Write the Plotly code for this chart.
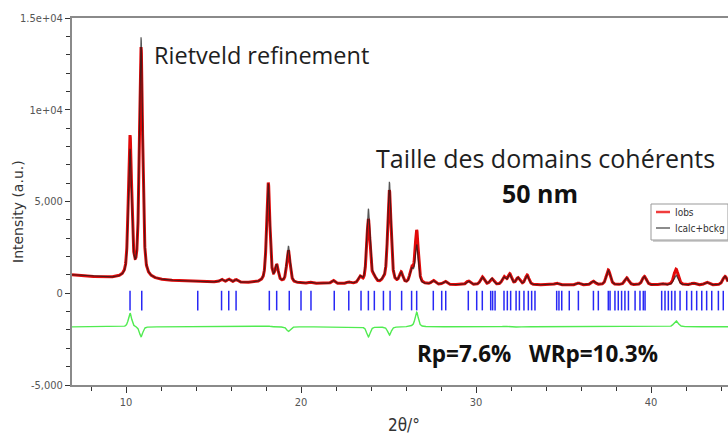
import numpy as np
import plotly.graph_objects as go

# ---------------- data ----------------
x_range = [6.914, 44.4]
y_range = [-5000, 15000]

# background (2theta, intensity)
bg_pos = [6.9, 8.0, 9.0, 10.0, 12.0, 14.0, 16.0, 18.0, 20.0, 22.0, 25.0, 28.0, 32.0, 36.0, 40.0, 45.0]
bg_int = [1000, 900, 830, 790, 700, 630, 580, 550, 530, 510, 480, 460, 450, 445, 440, 440]

# peaks: position, calculated height, observed height (above background), FWHM
peak_pos = [10.23, 10.86, 15.46, 15.87, 16.29, 18.13, 18.61, 19.28, 20.57, 21.83, 22.73, 23.37,
            23.85, 24.17, 24.71, 25.05, 25.72, 26.32, 26.61, 27.56, 28.23, 29.56, 30.36, 30.90,
            31.60, 31.93, 32.40, 32.92, 34.60, 35.85, 36.70, 37.56, 38.61, 39.62, 40.60, 41.43,
            42.42, 43.18, 44.23]
peak_calc = [6900, 13100, 150, 170, 150, 5400, 850, 2000, 60, 180, 80, 330,
             4050, 280, 100, 5550, 560, 740, 2100, 200, 180, 200, 400, 340,
             380, 540, 380, 500, 100, 100, 200, 800, 390, 460, 80, 540,
             100, 150, 480]
peak_obs = [7650, 12550, 150, 170, 150, 5450, 870, 1750, 60, 180, 80, 330,
            3500, 280, 100, 5100, 580, 760, 2900, 200, 180, 200, 420, 320,
            410, 570, 360, 530, 100, 100, 200, 820, 390, 470, 80, 870,
            100, 150, 480]
peak_fwhm = [0.22, 0.22, 0.22, 0.22, 0.22, 0.22, 0.22, 0.23, 0.22, 0.22, 0.22, 0.22,
             0.23, 0.22, 0.22, 0.23, 0.23, 0.23, 0.22, 0.24, 0.25, 0.25, 0.25, 0.25,
             0.25, 0.25, 0.25, 0.25, 0.26, 0.26, 0.27, 0.27, 0.27, 0.28, 0.28, 0.29,
             0.29, 0.29, 0.3]

# Bragg reflection positions (blue ticks)
reflections = [10.23, 10.90, 14.10, 15.46, 15.87, 16.29, 18.19, 18.61, 19.33, 20.00, 20.57,
               21.90, 22.73, 23.43, 23.85, 24.19, 24.71, 25.09, 25.75, 26.32, 26.61, 27.56,
               28.04, 28.27, 29.56, 30.04, 30.36, 30.84, 30.95, 31.09, 31.60, 31.79, 31.98,
               32.29, 32.48, 32.74, 32.99, 33.18, 33.37, 34.61, 34.74, 34.90, 35.33, 35.85,
               36.71, 36.99, 37.56, 37.66, 37.94, 38.13, 38.32, 38.51, 38.71, 39.09, 39.37,
               39.56, 39.66, 40.61, 40.80, 40.99, 41.18, 41.37, 41.66, 42.04, 42.32, 42.61,
               42.90, 43.18, 43.47, 43.85, 44.13]
tick_level = -400
diff_offset = -1830

y_tickvals = [-5000, 0, 5000, 10000, 15000]
y_ticktext = ["-5,000", "0", "5,000", "1e+04", "1.5e+04"]
x_tickvals = [10, 20, 30, 40]
x_ticktext = ["10", "20", "30", "40"]

# ---------------- build profiles ----------------
x = np.arange(x_range[0], x_range[1] + 0.005, 0.005)


def profile(heights):
    y = np.interp(x, bg_pos, bg_int)
    for p, h, w in zip(peak_pos, heights, peak_fwhm):
        d = (x - p) / w
        y = y + h * (0.5 * np.exp(-4 * np.log(2) * d ** 2) + 0.5 / (1 + 4 * d ** 2))
    return y


y_calc = profile(peak_calc)
y_obs = profile(peak_obs)
y_diff = y_obs - y_calc + diff_offset

fig = go.Figure()
fig.add_trace(go.Scatter(x=x, y=y_obs, mode="lines", name="Iobs",
                         line=dict(color="rgb(225,10,10)", width=3), showlegend=False))
fig.add_trace(go.Scatter(x=x, y=y_calc, mode="lines", name="Icalc+bckg",
                         line=dict(color="rgba(30,30,30,0.75)", width=1.2), showlegend=False))
fig.add_trace(go.Scatter(x=reflections, y=[tick_level] * len(reflections), mode="markers",
                         marker=dict(symbol="line-ns", size=14,
                                     line=dict(width=1.5, color="rgb(40,40,245)")),
                         showlegend=False))
fig.add_trace(go.Scatter(x=x, y=y_diff, mode="lines",
                         line=dict(color="rgb(80,235,80)", width=1.4), showlegend=False))

L, T, W, H = 72, 18, 656, 367


def px(v):
    return (v - L) / W


def py(v):
    return (T + H - v) / H


narrow = "Liberation Sans Narrow, Arial Narrow, DejaVu Sans Condensed, sans-serif"
tick_font = dict(family=narrow, size=11, color="#555")

fig.update_layout(
    width=728, height=435,
    margin=dict(l=L, r=0, t=T, b=435 - T - H),
    paper_bgcolor="white", plot_bgcolor="white",
    xaxis=dict(range=x_range, tickvals=x_tickvals, ticktext=x_ticktext,
               ticks="outside", ticklen=6, tickwidth=1.3, tickcolor="#333",
               showline=True, linecolor="#8a8a8a", linewidth=2, mirror=True,
               showgrid=False, zeroline=False, tickfont=tick_font,
               minor=dict(dtick=2, tick0=0, ticks="outside", ticklen=4, tickwidth=1.3,
                          tickcolor="#333", showgrid=False)),
    yaxis=dict(range=y_range, tickvals=y_tickvals, ticktext=y_ticktext,
               ticks="outside", ticklen=5, tickwidth=1.3, tickcolor="#333",
               showline=True, linecolor="#8a8a8a", linewidth=2,
               showgrid=False, zeroline=False, tickfont=tick_font,
               minor=dict(dtick=1000, tick0=0, ticks="outside", ticklen=4, tickwidth=1.3,
                          tickcolor="#333", showgrid=False)),
    showlegend=False,
)

text_font = "Open Sans, Noto Sans, sans-serif"
annotations = [
    dict(x=px(152), y=py(55), text="Rietveld refinement", xanchor="left", yanchor="middle",
         font=dict(family=text_font, size=23.5, color="#1e1e1e")),
    dict(x=px(545), y=py(158), text="Taille des domains cohérents", xanchor="center", yanchor="middle",
         font=dict(family=text_font, size=25, color="#1e1e1e")),
    dict(x=px(540), y=py(193), text="<b>50 nm</b>", xanchor="center", yanchor="middle",
         font=dict(family=text_font, size=25, color="#111")),
    dict(x=px(415), y=py(353), text="<b>Rp=7.6%   WRp=10.3%</b>", xanchor="left", yanchor="middle",
         font=dict(family=text_font, size=22.5, color="#111")),
    dict(x=px(18), y=py(212), text="Intensity (a.u.)", textangle=-90, xanchor="center", yanchor="middle",
         font=dict(family="DejaVu Sans, sans-serif", size=14, color="#333")),
    dict(x=px(404), y=py(425), text="2θ/°", xanchor="center", yanchor="middle",
         font=dict(family=narrow, size=17, color="#333")),
    dict(x=px(673), y=py(212), text="Iobs", xanchor="left", yanchor="middle",
         font=dict(family=narrow, size=10, color="#333")),
    dict(x=px(673), y=py(228), text="Icalc+bckg", xanchor="left", yanchor="middle",
         font=dict(family=narrow, size=10, color="#333")),
]
for a in annotations:
    a.update(xref="paper", yref="paper", showarrow=False)
fig.update_layout(annotations=annotations)

shapes = [
    dict(type="rect", x0=px(653), x1=px(730), y0=py(206), y1=py(242),
         line=dict(width=0), fillcolor="#d0d0d0"),
    dict(type="rect", x0=px(651), x1=px(728), y0=py(204), y1=py(240),
         line=dict(width=1, color="#999"), fillcolor="white"),
    dict(type="line", x0=px(656), x1=px(670), y0=py(212), y1=py(212),
         line=dict(width=2.5, color="rgb(240,60,60)")),
    dict(type="line", x0=px(656), x1=px(670), y0=py(228), y1=py(228),
         line=dict(width=1.5, color="#666")),
]
for s in shapes:
    s.update(xref="paper", yref="paper", layer="above")
fig.update_layout(shapes=shapes)

fig.write_html("out.html", config={"displayModeBar": False},
               post_script="document.body.style.margin='0';document.body.style.overflow='hidden';")
